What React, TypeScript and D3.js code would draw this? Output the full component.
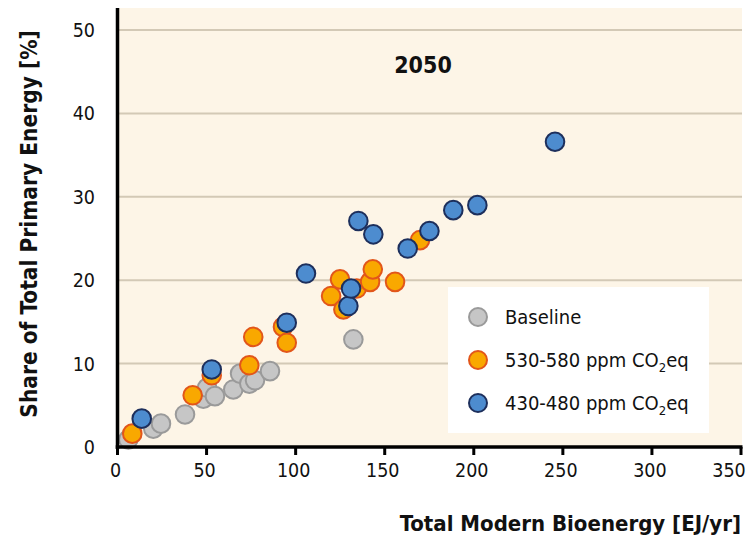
import React from "react";
import * as d3 from "d3";

const baselineX = [6.1, 20.1, 24.4, 37.9, 48.2, 50.3, 54.7, 65.0, 68.8, 74.0, 77.2, 85.6, 132.4];
const baselineY = [0.9, 2.2, 2.8, 3.9, 5.8, 7.1, 6.1, 6.9, 8.8, 7.6, 8.0, 9.1, 12.9];

const midX = [8.3, 42.2, 52.9, 74.0, 76.2, 92.9, 95.0, 119.9, 124.9, 126.8, 134.3, 141.8, 143.3, 155.8, 169.8];
const midY = [1.6, 6.2, 8.6, 9.8, 13.2, 14.4, 12.5, 18.1, 20.1, 16.5, 19.0, 19.8, 21.3, 19.8, 24.8];

const lowX = [13.6, 52.9, 95.0, 105.8, 129.6, 131.1, 135.2, 143.6, 162.9, 175.1, 188.5, 202.0, 245.6];
const lowY = [3.4, 9.3, 14.9, 20.8, 16.9, 19.0, 27.1, 25.5, 23.8, 25.9, 28.4, 29.0, 36.6];

const xTicks = [0, 50, 100, 150, 200, 250, 300, 350];
const yTicks = [0, 10, 20, 30, 40, 50];

const seriesNames = ["Baseline", "530-580 ppm CO", "430-480 ppm CO"];

const FONT = "'DejaVu Sans Condensed', 'DejaVu Sans', sans-serif";

export default function App() {
  const W = 750, H = 542;
  const x = d3.scaleLinear().domain([0, 350]).range([117.5, 741]);
  const y = d3.scaleLinear().domain([0, 50]).range([447, 30]);
  const r = 9.3;

  const series = [
    { xs: baselineX, ys: baselineY, fill: "#c6c6c6", stroke: "#9a9a9a" },
    { xs: midX, ys: midY, fill: "#f9a800", stroke: "#e2561a" },
    { xs: lowX, ys: lowY, fill: "#4d8ccf", stroke: "#1d2f5c" },
  ];

  return (
    <svg width={W} height={H} style={{ position: "absolute", left: 0, top: 0 }} fontFamily={FONT} fontStretch="condensed">
      <rect x={x(0)} y={8} width={x(350) - x(0) + 1} height={y(0) - 8} fill="#fdf5e7" />
      {yTicks.filter(t => t > 0).map(t => (
        <line key={t} x1={x(0)} x2={x(350) + 1} y1={y(t)} y2={y(t)} stroke="#d3c9b6" strokeWidth={2} />
      ))}
      {series.map((s, si) => (
        <g key={si}>
          {s.xs.map((v, i) => (
            <circle key={i} cx={x(v)} cy={y(s.ys[i])} r={r} fill={s.fill} stroke={s.stroke} strokeWidth={2} />
          ))}
        </g>
      ))}
      <line x1={x(0)} x2={x(0)} y1={8} y2={y(0) + 2} stroke="#000" strokeWidth={3.5} />
      <line x1={x(0) - 1.75} x2={x(350) + 1.5} y1={y(0)} y2={y(0)} stroke="#000" strokeWidth={3.5} />
      {xTicks.map((t, i) => (
        <g key={t}>
          <line x1={x(t)} x2={x(t)} y1={y(0)} y2={y(0) + 8} stroke="#000" strokeWidth={3} />
          <text x={i === xTicks.length - 1 ? x(t) - 12 : x(t) - 2} y={477} textAnchor="middle" fontSize={19.5} fill="#111">{t}</text>
        </g>
      ))}
      {yTicks.map(t => (
        <text key={t} x={95} y={y(t) + 7} textAnchor="end" fontSize={19.5} fill="#111">{t}</text>
      ))}
      <text x={741} y={531} textAnchor="end" fontSize={22} fontWeight="bold" fill="#111">Total Modern Bioenergy [EJ/yr]</text>
      <text transform={`translate(37,224) rotate(-90)`} textAnchor="middle" fontSize={22.5} fontWeight="bold" fill="#111">Share of Total Primary Energy [%]</text>
      <text x={423} y={73} textAnchor="middle" fontSize={23} fontWeight="bold" fill="#111">2050</text>
      <rect x={448} y={287} width={261} height={146} fill="#ffffff" />
      {series.map((s, i) => (
        <g key={i}>
          <circle cx={478} cy={317 + i * 43} r={9} fill={s.fill} stroke={s.stroke} strokeWidth={2} />
          <text x={505} y={324 + i * 43} fontSize={20} fill="#111">
            {seriesNames[i]}
            {i > 0 && <tspan fontSize={13} dy={5}>2</tspan>}
            {i > 0 && <tspan dy={-5}>eq</tspan>}
          </text>
        </g>
      ))}
    </svg>
  );
}
